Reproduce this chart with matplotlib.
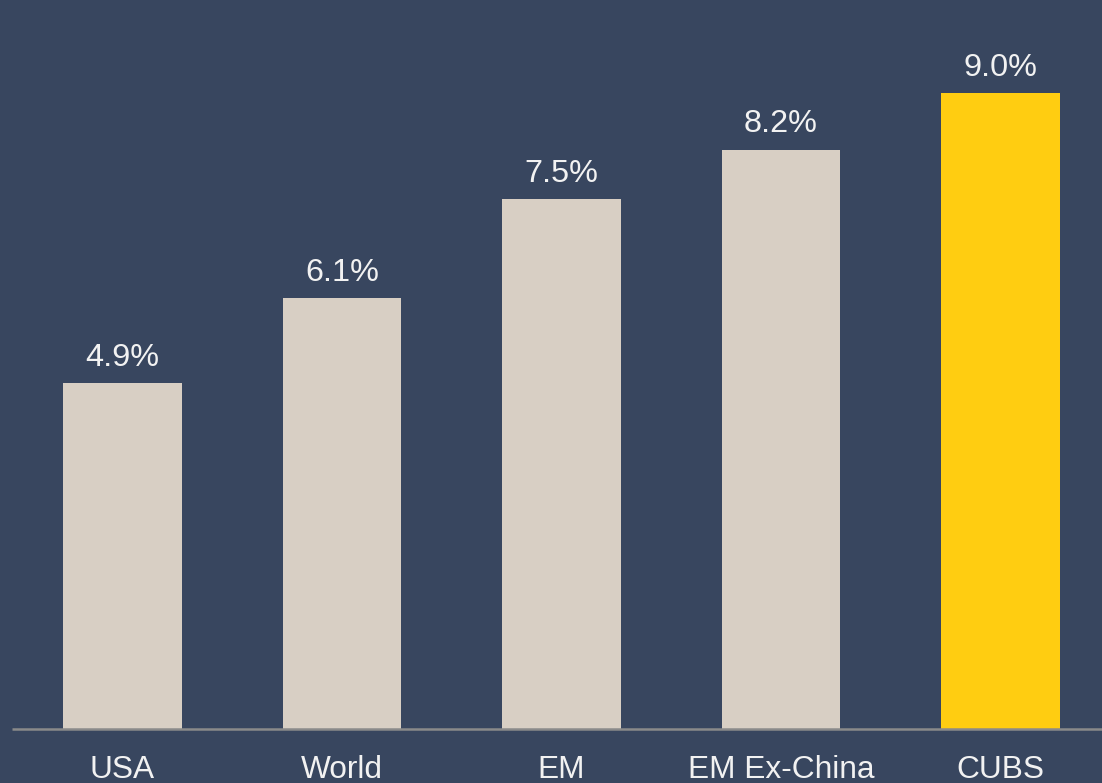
import matplotlib.pyplot as plt
import numpy as np

# Expected returns by market
categories = ['USA', 'World', 'EM', 'EM Ex-China', 'CUBS']
values = [4.9, 6.1, 7.5, 8.2, 9.0]
highlight = 'CUBS'

BG = '#38465F'
BAR = '#D8CFC4'
GOLD = '#FFCD11'
TEXT = '#F2F2F2'

plt.rcParams['font.family'] = ['Liberation Sans', 'DejaVu Sans']

fig = plt.figure(figsize=(11.02, 7.83), dpi=100)
fig.patch.set_facecolor(BG)
ax = fig.add_axes([0, 0, 1, 1])
ax.set_facecolor(BG)

x = np.arange(len(categories))
colors = [GOLD if c == highlight else BAR for c in categories]
bars = ax.bar(x, values, width=0.542, color=colors, zorder=2)

# pixel layout: centres every 219.5 px starting at 122.5, 70.67 px per unit
ax.set_xlim(-122.5 / 219.5, (1102 - 122.5) / 219.5)
ax.set_ylim(-54 / 70.67, 729 / 70.67)

for b, v in zip(bars, values):
    ax.annotate(f'{v:.1f}%', (b.get_x() + b.get_width() / 2, v),
                xytext=(0, 12.3), textcoords='offset points',
                ha='center', va='baseline', fontsize=23.3, color=TEXT)

for xi, c in zip(x, categories):
    ax.annotate(c, (xi, 0), xytext=(0, -35.3), textcoords='offset points',
                ha='center', va='baseline', fontsize=22.8, color=TEXT)

# baseline
ax.plot([-110.5 / 219.5, 5], [0, 0], color='#8A8A8A', lw=1.8, zorder=3,
        solid_capstyle='butt')

ax.axis('off')
fig.savefig('out.png', dpi=100, facecolor=BG)
